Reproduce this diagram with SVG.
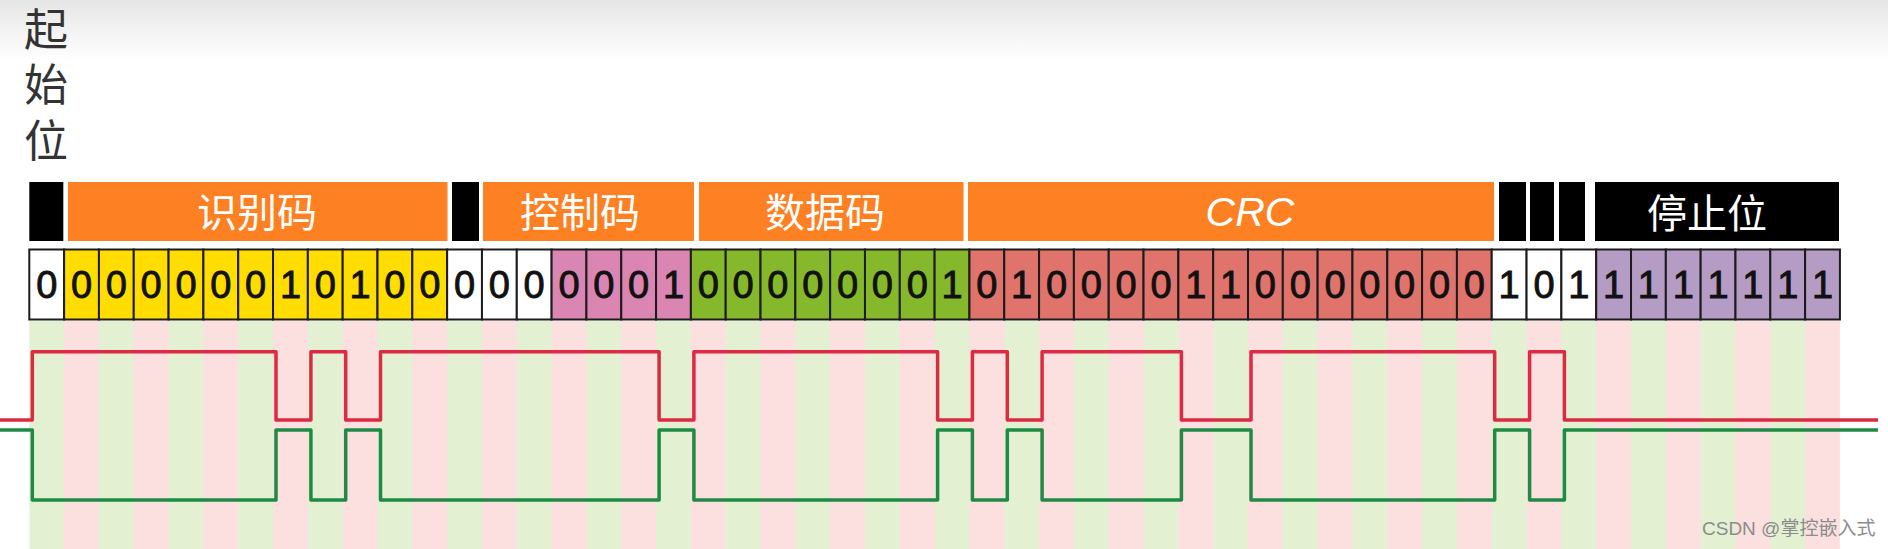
<svg xmlns="http://www.w3.org/2000/svg" width="1888" height="549" viewBox="0 0 1888 549">
<defs>
<linearGradient id="topfade" x1="0" y1="0" x2="0" y2="1">
<stop offset="0" stop-color="#e6e6e6"/>
<stop offset="1" stop-color="#ffffff"/>
</linearGradient>
<pattern id="stripes" patternUnits="userSpaceOnUse" x="29.3" y="0" width="69.64" height="549">
<rect x="0" y="0" width="34.82" height="549" fill="#e3f0d2"/>
<rect x="34.82" y="0" width="34.82" height="549" fill="#fbe0df"/>
</pattern>
<style>
.cell{stroke:#1c1c1c;stroke-width:2}
.w{fill:#ffffff}.y{fill:#ffdd00}.p{fill:#da85b2}.g{fill:#85b82b}.r{fill:#e0736b}.v{fill:#b49cc5}
.d{font-family:"Liberation Sans",Arial,sans-serif;font-size:38px;text-anchor:middle;fill:#111;stroke:#111;stroke-width:0.9}
.lab{font-family:"Noto Sans CJK SC","Noto Sans",sans-serif;font-size:40px;fill:#ffffff;text-anchor:middle}
.ob{fill:#fd8022}.bk{fill:#000000}
.side{font-family:"Noto Sans CJK SC",sans-serif;font-size:44px;fill:#333333}
.wave{fill:none;stroke-width:3.5;stroke-linejoin:round}
</style>
</defs>
<rect x="0" y="0" width="1888" height="549" fill="#ffffff"/>
<rect x="0" y="0" width="1888" height="60" fill="url(#topfade)"/>
<rect x="29.3" y="321" width="1810.64" height="228" fill="url(#stripes)"/>

<g id="start-label">
<text class="side" x="46" y="7" writing-mode="vertical-rl" letter-spacing="11.5" text-anchor="start">起始位</text>
</g>

<g id="field-bar">
<rect class="bk" x="29.3" y="182" width="34" height="59"/>
<g id="f-id"><rect class="ob" x="68" y="182" width="379.5" height="59"/><text class="lab" x="257" y="227">识别码</text></g>
<rect class="bk" x="452" y="182" width="27" height="59"/>
<g id="f-ctrl"><rect class="ob" x="483" y="182" width="211" height="59"/><text class="lab" x="580" y="227">控制码</text></g>
<g id="f-data"><rect class="ob" x="699" y="182" width="264.5" height="59"/><text class="lab" x="825" y="227">数据码</text></g>
<g id="f-crc"><rect class="ob" x="968" y="182" width="526" height="59"/><text x="1250" y="226" fill="#ffffff" text-anchor="middle" font-family="'Liberation Sans',Arial,sans-serif" font-style="italic" font-size="41">CRC</text></g>
<rect class="bk" x="1499" y="182" width="27" height="59"/>
<rect class="bk" x="1530" y="182" width="24" height="59"/>
<rect class="bk" x="1559" y="182" width="26" height="59"/>
<g id="f-eof"><rect class="bk" x="1595" y="182" width="244" height="59"/><text class="lab" x="1707" y="228">停止位</text></g>
</g>

<g id="bits">
<g id="b-sof">
<rect class="cell w" x="29.30" y="249.5" width="34.82" height="70"/>
</g>
<g id="b-id">
<rect class="cell y" x="64.12" y="249.5" width="34.82" height="70"/>
<rect class="cell y" x="98.94" y="249.5" width="34.82" height="70"/>
<rect class="cell y" x="133.76" y="249.5" width="34.82" height="70"/>
<rect class="cell y" x="168.58" y="249.5" width="34.82" height="70"/>
<rect class="cell y" x="203.40" y="249.5" width="34.82" height="70"/>
<rect class="cell y" x="238.22" y="249.5" width="34.82" height="70"/>
<rect class="cell y" x="273.04" y="249.5" width="34.82" height="70"/>
<rect class="cell y" x="307.86" y="249.5" width="34.82" height="70"/>
<rect class="cell y" x="342.68" y="249.5" width="34.82" height="70"/>
<rect class="cell y" x="377.50" y="249.5" width="34.82" height="70"/>
<rect class="cell y" x="412.32" y="249.5" width="34.82" height="70"/>
</g>
<g id="b-rtr">
<rect class="cell w" x="447.14" y="249.5" width="34.82" height="70"/>
<rect class="cell w" x="481.96" y="249.5" width="34.82" height="70"/>
<rect class="cell w" x="516.78" y="249.5" width="34.82" height="70"/>
</g>
<g id="b-dlc">
<rect class="cell p" x="551.60" y="249.5" width="34.82" height="70"/>
<rect class="cell p" x="586.42" y="249.5" width="34.82" height="70"/>
<rect class="cell p" x="621.24" y="249.5" width="34.82" height="70"/>
<rect class="cell p" x="656.06" y="249.5" width="34.82" height="70"/>
</g>
<g id="b-data">
<rect class="cell g" x="690.88" y="249.5" width="34.82" height="70"/>
<rect class="cell g" x="725.70" y="249.5" width="34.82" height="70"/>
<rect class="cell g" x="760.52" y="249.5" width="34.82" height="70"/>
<rect class="cell g" x="795.34" y="249.5" width="34.82" height="70"/>
<rect class="cell g" x="830.16" y="249.5" width="34.82" height="70"/>
<rect class="cell g" x="864.98" y="249.5" width="34.82" height="70"/>
<rect class="cell g" x="899.80" y="249.5" width="34.82" height="70"/>
<rect class="cell g" x="934.62" y="249.5" width="34.82" height="70"/>
</g>
<g id="b-crc">
<rect class="cell r" x="969.44" y="249.5" width="34.82" height="70"/>
<rect class="cell r" x="1004.26" y="249.5" width="34.82" height="70"/>
<rect class="cell r" x="1039.08" y="249.5" width="34.82" height="70"/>
<rect class="cell r" x="1073.90" y="249.5" width="34.82" height="70"/>
<rect class="cell r" x="1108.72" y="249.5" width="34.82" height="70"/>
<rect class="cell r" x="1143.54" y="249.5" width="34.82" height="70"/>
<rect class="cell r" x="1178.36" y="249.5" width="34.82" height="70"/>
<rect class="cell r" x="1213.18" y="249.5" width="34.82" height="70"/>
<rect class="cell r" x="1248.00" y="249.5" width="34.82" height="70"/>
<rect class="cell r" x="1282.82" y="249.5" width="34.82" height="70"/>
<rect class="cell r" x="1317.64" y="249.5" width="34.82" height="70"/>
<rect class="cell r" x="1352.46" y="249.5" width="34.82" height="70"/>
<rect class="cell r" x="1387.28" y="249.5" width="34.82" height="70"/>
<rect class="cell r" x="1422.10" y="249.5" width="34.82" height="70"/>
<rect class="cell r" x="1456.92" y="249.5" width="34.82" height="70"/>
</g>
<g id="b-ack">
<rect class="cell w" x="1491.74" y="249.5" width="34.82" height="70"/>
<rect class="cell w" x="1526.56" y="249.5" width="34.82" height="70"/>
<rect class="cell w" x="1561.38" y="249.5" width="34.82" height="70"/>
</g>
<g id="b-eof">
<rect class="cell v" x="1596.20" y="249.5" width="34.82" height="70"/>
<rect class="cell v" x="1631.02" y="249.5" width="34.82" height="70"/>
<rect class="cell v" x="1665.84" y="249.5" width="34.82" height="70"/>
<rect class="cell v" x="1700.66" y="249.5" width="34.82" height="70"/>
<rect class="cell v" x="1735.48" y="249.5" width="34.82" height="70"/>
<rect class="cell v" x="1770.30" y="249.5" width="34.82" height="70"/>
<rect class="cell v" x="1805.12" y="249.5" width="34.82" height="70"/>
</g>
<g id="bit-values">
<text class="d" x="46.71" y="298">0</text>
<text class="d" x="81.53" y="298">0</text>
<text class="d" x="116.35" y="298">0</text>
<text class="d" x="151.17" y="298">0</text>
<text class="d" x="185.99" y="298">0</text>
<text class="d" x="220.81" y="298">0</text>
<text class="d" x="255.63" y="298">0</text>
<text class="d" x="290.45" y="298">1</text>
<text class="d" x="325.27" y="298">0</text>
<text class="d" x="360.09" y="298">1</text>
<text class="d" x="394.91" y="298">0</text>
<text class="d" x="429.73" y="298">0</text>
<text class="d" x="464.55" y="298">0</text>
<text class="d" x="499.37" y="298">0</text>
<text class="d" x="534.19" y="298">0</text>
<text class="d" x="569.01" y="298">0</text>
<text class="d" x="603.83" y="298">0</text>
<text class="d" x="638.65" y="298">0</text>
<text class="d" x="673.47" y="298">1</text>
<text class="d" x="708.29" y="298">0</text>
<text class="d" x="743.11" y="298">0</text>
<text class="d" x="777.93" y="298">0</text>
<text class="d" x="812.75" y="298">0</text>
<text class="d" x="847.57" y="298">0</text>
<text class="d" x="882.39" y="298">0</text>
<text class="d" x="917.21" y="298">0</text>
<text class="d" x="952.03" y="298">1</text>
<text class="d" x="986.85" y="298">0</text>
<text class="d" x="1021.67" y="298">1</text>
<text class="d" x="1056.49" y="298">0</text>
<text class="d" x="1091.31" y="298">0</text>
<text class="d" x="1126.13" y="298">0</text>
<text class="d" x="1160.95" y="298">0</text>
<text class="d" x="1195.77" y="298">1</text>
<text class="d" x="1230.59" y="298">1</text>
<text class="d" x="1265.41" y="298">0</text>
<text class="d" x="1300.23" y="298">0</text>
<text class="d" x="1335.05" y="298">0</text>
<text class="d" x="1369.87" y="298">0</text>
<text class="d" x="1404.69" y="298">0</text>
<text class="d" x="1439.51" y="298">0</text>
<text class="d" x="1474.33" y="298">0</text>
<text class="d" x="1509.15" y="298">1</text>
<text class="d" x="1543.97" y="298">0</text>
<text class="d" x="1578.79" y="298">1</text>
<text class="d" x="1613.61" y="298">1</text>
<text class="d" x="1648.43" y="298">1</text>
<text class="d" x="1683.25" y="298">1</text>
<text class="d" x="1718.07" y="298">1</text>
<text class="d" x="1752.89" y="298">1</text>
<text class="d" x="1787.71" y="298">1</text>
<text class="d" x="1822.53" y="298">1</text>
</g>
</g>

<g id="connectors">
<path id="can-h" class="wave" stroke="#dc2a42" d="M0,420 H32.3 V351.7 H276 V420 H310.9 V351.7 H345.7 V420 H380.5 V351.7 H659.1 V420 H693.9 V351.7 H937.6 V420 H972.4 V351.7 H1007.3 V420 H1042.1 V351.7 H1181.4 V420 H1251 V351.7 H1494.7 V420 H1529.6 V351.7 H1564.4 V420 H1878"/>
<path id="can-l" class="wave" stroke="#1f8a46" d="M0,430 H32.3 V500 H276 V430 H310.9 V500 H345.7 V430 H380.5 V500 H659.1 V430 H693.9 V500 H937.6 V430 H972.4 V500 H1007.3 V430 H1042.1 V500 H1181.4 V430 H1251 V500 H1494.7 V430 H1529.6 V500 H1564.4 V430 H1878"/>
</g>

<text x="1702" y="535" font-family="'Liberation Sans','Noto Sans CJK SC',sans-serif" font-size="19" fill="#8c8c8c">CSDN @掌控嵌入式</text>
</svg>
